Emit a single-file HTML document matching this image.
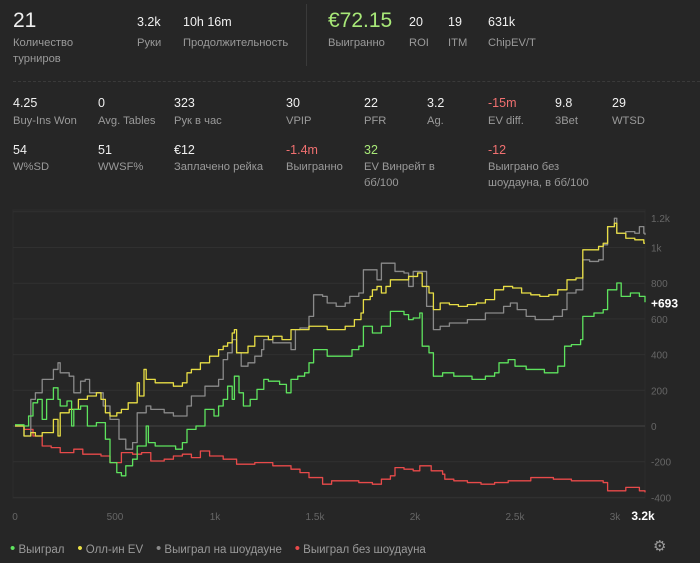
<!DOCTYPE html>
<html><head><meta charset="utf-8">
<style>
body{margin:0;background:#262626;width:700px;height:563px;overflow:hidden;font-family:"Liberation Sans","DejaVu Sans",sans-serif;color:#e8e8e8;position:relative}
.s{position:absolute}
.v{font-size:12.5px;color:#f0f0f0;white-space:nowrap}
.l{font-size:11.2px;color:#9a9a9a;line-height:16px;white-space:nowrap}
.big{font-size:21px}
.red{color:#f07070}.grn{color:#a8e878}
</style></head><body>
<div class="s v big" style="left:13px;top:9px">21</div>
<div class="s l" style="left:13px;top:35px">Количество<br>турниров</div>
<div class="s v" style="left:137px;top:15px">3.2k</div>
<div class="s l" style="left:137px;top:35px">Руки</div>
<div class="s v" style="left:183px;top:15px">10h 16m</div>
<div class="s l" style="left:183px;top:35px">Продолжительность</div>
<div class="s" style="left:306px;top:4px;width:1px;height:62px;background:#3a3a3a"></div>
<div class="s v big grn" style="left:328px;top:9px">€72.15</div>
<div class="s l" style="left:328px;top:35px">Выигранно</div>
<div class="s v" style="left:409px;top:15px">20</div>
<div class="s l" style="left:409px;top:35px">ROI</div>
<div class="s v" style="left:448px;top:15px">19</div>
<div class="s l" style="left:448px;top:35px">ITM</div>
<div class="s v" style="left:488px;top:15px">631k</div>
<div class="s l" style="left:488px;top:35px">ChipEV/T</div>
<div class="s" style="left:13px;top:81px;width:687px;border-top:1px dashed #3a3a3a"></div>

<div class="s v" style="left:13px;top:96px">4.25</div><div class="s l" style="left:13px;top:113px">Buy-Ins Won</div>
<div class="s v" style="left:98px;top:96px">0</div><div class="s l" style="left:98px;top:113px">Avg. Tables</div>
<div class="s v" style="left:174px;top:96px">323</div><div class="s l" style="left:174px;top:113px">Рук в час</div>
<div class="s v" style="left:286px;top:96px">30</div><div class="s l" style="left:286px;top:113px">VPIP</div>
<div class="s v" style="left:364px;top:96px">22</div><div class="s l" style="left:364px;top:113px">PFR</div>
<div class="s v" style="left:427px;top:96px">3.2</div><div class="s l" style="left:427px;top:113px">Ag.</div>
<div class="s v red" style="left:488px;top:96px">-15m</div><div class="s l" style="left:488px;top:113px">EV diff.</div>
<div class="s v" style="left:555px;top:96px">9.8</div><div class="s l" style="left:555px;top:113px">3Bet</div>
<div class="s v" style="left:612px;top:96px">29</div><div class="s l" style="left:612px;top:113px">WTSD</div>

<div class="s v" style="left:13px;top:143px">54</div><div class="s l" style="left:13px;top:159px">W%SD</div>
<div class="s v" style="left:98px;top:143px">51</div><div class="s l" style="left:98px;top:159px">WWSF%</div>
<div class="s v" style="left:174px;top:143px">€12</div><div class="s l" style="left:174px;top:159px">Заплачено рейка</div>
<div class="s v red" style="left:286px;top:143px">-1.4m</div><div class="s l" style="left:286px;top:159px">Выигранно</div>
<div class="s v grn" style="left:364px;top:143px">32</div><div class="s l" style="left:364px;top:159px">EV Винрейт в<br>бб/100</div>
<div class="s v red" style="left:488px;top:143px">-12</div><div class="s l" style="left:488px;top:159px">Выиграно без<br>шоудауна, в бб/100</div>

<svg class="s" style="left:0;top:0" width="700" height="563" id="chart"></svg>

<div class="s" style="left:10px;top:540px;font-size:11.5px;color:#9a9a9a;white-space:nowrap">
<span><span style="color:#5ee35e;font-size:15px">•</span> Выиграл</span>&nbsp;&nbsp;&nbsp;
<span><span style="color:#e8de45;font-size:15px">•</span> Олл-ин EV</span>&nbsp;&nbsp;&nbsp;
<span><span style="color:#8a8a8a;font-size:15px">•</span> Выиграл на шоудауне</span>&nbsp;&nbsp;&nbsp;
<span><span style="color:#ea4a4a;font-size:15px">•</span> Выиграл без шоудауна</span>
</div>
<div class="s" style="left:653px;top:537px;font-size:15px;color:#9a9a9a">⚙</div>

<script>
const xTicks=[0,500,1000,1500,2000,2500,3000];
const xTickLabels=["0","500","1k","1.5k","2k","2.5k","3k"];
const yTicks=[-400,-200,0,200,400,600,800,1000,1200];
const yTickLabels=["-400","-200","0","200","400","600","800","1k","1.2k"];
const finalLabel="+693";
const greenHands=[0,45,68,90,113,136,158,192,215,226,260,283,294,328,362,407,430,452,475,509,532,554,588,611,633,656,667,701,769,803,837,860,905,950,995,1018,1041,1063,1086,1097,1120,1142,1176,1210,1244,1267,1323,1357,1380,1414,1448,1470,1493,1561,1651,1685,1719,1742,1764,1787,1810,1832,1877,1945,1968,1991,2024,2036,2070,2092,2138,2194,2285,2352,2398,2420,2466,2500,2556,2647,2714,2748,2782,2828,2839,2895,2941,2963,3009,3031,3077,3122,3144,3150];
const greenVals=[7,0,56,130,149,37,149,214,149,112,140,0,93,112,0,19,19,-74,-205,-261,-279,-223,-186,-112,-112,0,-93,-112,-112,-130,-93,-19,0,93,56,112,149,223,149,279,186,112,149,205,261,251,233,186,261,279,298,354,428,391,391,428,447,559,559,521,521,559,642,624,596,605,633,447,410,279,298,279,261,279,298,354,372,335,317,298,335,447,456,484,614,633,652,763,801,726,745,726,726,693];
const yellowHands=[0,45,79,102,136,158,181,192,215,226,271,317,362,407,430,452,475,509,532,566,611,622,645,656,701,746,792,837,860,882,927,973,1018,1041,1063,1086,1097,1108,1131,1165,1199,1233,1267,1289,1335,1357,1380,1425,1470,1516,1561,1651,1697,1730,1742,1776,1787,1810,1832,1855,1877,1923,1968,2013,2036,2070,2092,2126,2172,2217,2262,2307,2352,2398,2443,2488,2533,2579,2624,2669,2714,2760,2805,2839,2873,2918,2941,2963,2997,3009,3054,3099,3144,3150];
const yellowVals=[0,-56,-37,-56,-37,-37,-37,37,-56,74,93,149,168,186,149,74,56,74,93,130,242,168,317,261,242,242,223,242,298,317,354,391,428,447,466,521,540,410,410,447,503,503,484,503,484,484,540,540,559,559,540,559,596,633,708,726,763,782,745,782,819,819,838,857,782,745,652,689,680,670,680,689,708,763,782,773,745,735,726,735,763,819,829,987,987,1006,1024,1117,1136,1080,1052,1043,1024,1024];
const grayHands=[0,45,79,102,136,158,192,215,226,271,294,328,351,373,407,441,475,520,554,588,611,656,679,746,792,837,860,882,927,950,995,1018,1041,1063,1086,1108,1131,1165,1199,1233,1244,1289,1335,1380,1402,1425,1470,1493,1538,1561,1606,1651,1674,1719,1742,1776,1810,1832,1855,1877,1900,1945,1968,1991,2036,2058,2092,2126,2172,2217,2262,2307,2352,2398,2443,2477,2511,2556,2601,2647,2692,2737,2760,2805,2839,2873,2918,2941,2963,2997,3009,3054,3099,3122,3144,3150];
const grayVals=[0,-56,149,186,261,261,317,354,298,279,186,251,261,186,186,112,37,-74,-130,-93,74,112,93,74,56,56,112,168,168,223,223,261,372,410,484,410,335,354,391,428,484,466,466,428,540,549,614,735,726,689,670,689,726,745,875,875,819,912,912,912,866,857,782,866,866,670,540,559,577,577,596,596,633,633,670,689,652,614,596,596,614,652,745,763,931,922,931,1015,1117,1164,1080,1089,1080,1117,1080,1071];
const redHands=[0,45,90,136,181,226,294,339,385,430,475,520,532,588,633,679,746,792,837,882,927,973,1041,1108,1199,1289,1380,1425,1470,1538,1583,1651,1719,1787,1832,1877,1900,1945,1991,2024,2081,2138,2149,2194,2262,2330,2398,2466,2533,2579,2624,2692,2782,2873,2941,2963,3054,3122,3150];
const redVals=[0,-19,-56,-112,-121,-149,-130,-158,-158,-168,-205,-205,-149,-158,-149,-196,-186,-168,-158,-177,-140,-168,-186,-214,-205,-223,-242,-261,-289,-326,-307,-307,-317,-326,-298,-279,-233,-242,-251,-223,-251,-270,-298,-307,-317,-326,-317,-307,-307,-289,-289,-298,-307,-307,-317,-363,-344,-363,-372];

const X0=15,XS=0.2,Y0=426,YS=0.1785;
function xs(h){return X0+h*XS}
function ys(v){return Y0-v*YS}
const svg=document.getElementById('chart');
const NS='http://www.w3.org/2000/svg';
function mk(tag,at){const e=document.createElementNS(NS,tag);for(const k in at)e.setAttribute(k,at[k]);svg.appendChild(e);return e}
const pr=mk('rect',{x:13,y:210,width:632,height:288,fill:'none',stroke:'#2c2c2c'});


yTicks.forEach((t,i)=>{
  const g=mk('line',{x1:13,x2:645,y1:ys(t),y2:ys(t),stroke:t===0?'#444':'#303030','stroke-width':1});
  
  
  const tx=mk('text',{x:651,y:Math.max(ys(t),218)+4,fill:'#666','font-size':10});
  tx.textContent=yTickLabels[i];
  
  
});
xTicks.forEach((t,i)=>{
  const tx=mk('text',{x:xs(t),y:520,fill:'#666','font-size':10,'text-anchor':'middle'});
  tx.textContent=xTickLabels[i];
  
  
});
const endx=mk('text',{x:643,y:520,fill:'#fff','font-size':12,'font-weight':'bold','text-anchor':'middle'});
endx.textContent='3.2k';


function series(H,V,color,name){
  let d='M'+xs(H[0])+','+ys(V[0]);
  for(let i=1;i<H.length;i++){d+=' L'+xs(H[i])+','+ys(V[i-1])+' L'+xs(H[i])+','+ys(V[i]);}
  const p=mk('path',{d:d,fill:'none',stroke:color,'stroke-width':1.3,'stroke-linejoin':'round'});
  
  
}
series(redHands,redVals,'#e84a4a','line-won-without-showdown');
series(grayHands,grayVals,'#8a8a8a','line-won-at-showdown');
series(yellowHands,yellowVals,'#e8de45','line-allin-ev');
series(greenHands,greenVals,'#5ee35e','line-won');
const fl=mk('text',{x:651,y:ys(greenVals[greenVals.length-1])+5,fill:'#fff','font-size':12,'font-weight':'bold'});
fl.textContent=finalLabel;


</script>
</body></html>
